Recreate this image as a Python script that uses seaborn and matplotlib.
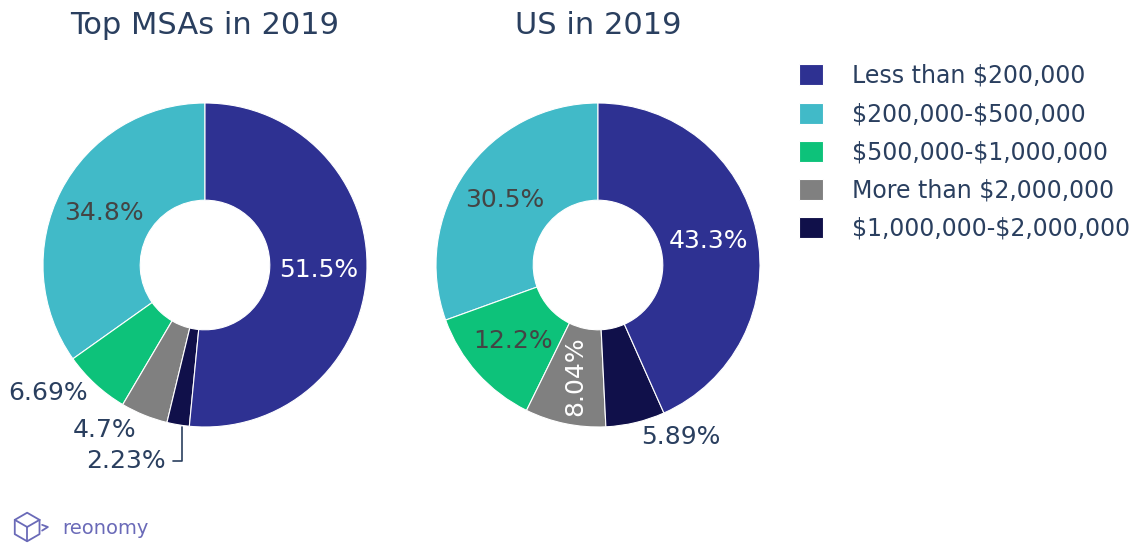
import numpy as np
import matplotlib
matplotlib.use("Agg")
import matplotlib.pyplot as plt
import seaborn as sns

# Data (slice order = counter-clockwise from 12 o'clock, as in the reference)
categories = ["$200,000-$500,000", "$500,000-$1,000,000", "More than $2,000,000",
              "$1,000,000-$2,000,000", "Less than $200,000"]
msa_values = [34.8, 6.69, 4.7, 2.23, 51.5]
us_values = [30.5, 12.2, 8.04, 5.89, 43.3]
msa_labels = ["34.8%", "6.69%", "4.7%", "2.23%", "51.5%"]
us_labels = ["30.5%", "12.2%", "8.04%", "5.89%", "43.3%"]
legend_order = ["Less than $200,000", "$200,000-$500,000", "$500,000-$1,000,000",
                "More than $2,000,000", "$1,000,000-$2,000,000"]

colors = {
    "Less than $200,000": "#2e3192",
    "$200,000-$500,000": "#41bac8",
    "$500,000-$1,000,000": "#0dc27a",
    "More than $2,000,000": "#808080",
    "$1,000,000-$2,000,000": "#10104a",
}

sns.set_style("white")
plt.rcParams["font.family"] = ["DejaVu Sans"]
plt.rcParams["text.parse_math"] = False

TXT = "#2a3f5f"
INSIDE_DARK = "#444444"
HOLE = 0.4
PCT_SIZE = 18

W, H = 1145, 546
fig = plt.figure(figsize=(W / 100, H / 100), dpi=100)


def px_axes(x0, y0, w, h):
    # axes from pixel box (top-left origin)
    return fig.add_axes([x0 / W, (H - y0 - h) / H, w / W, h / H])


def draw_donut(ax, values, labels, styles, title):
    pal = sns.color_palette([colors[c] for c in categories])
    wedges, _ = ax.pie(values, colors=pal, startangle=90, counterclock=True,
                       radius=1, wedgeprops=dict(width=1 - HOLE, edgecolor="white", linewidth=0.8))
    ax.set_xlim(-1, 1)
    ax.set_ylim(-1, 1)
    ax.set_aspect("equal")
    ax.axis("off")
    for w, lab, st in zip(wedges, labels, styles):
        if st["mode"] == "in":
            mid = np.deg2rad((w.theta1 + w.theta2) / 2)
            rr = (1 + HOLE) / 2
            ax.text(rr * np.cos(mid), rr * np.sin(mid), lab, ha="center", va="center",
                    fontsize=PCT_SIZE, color=st["color"], rotation=st.get("rot", 0))
        else:
            x, y = st["pos"]
            ax.text(x, y, lab, ha="center", va="center", fontsize=PCT_SIZE, color=TXT,
                    clip_on=False)
    ax.text(0, 1.48, title, ha="center", va="center", fontsize=22, color=TXT)
    return wedges


ax1 = px_axes(205 - 162, 265 - 162, 324, 324)
msa_styles = [
    {"mode": "in", "color": INSIDE_DARK},
    {"mode": "out", "pos": (-0.97, -0.79)},
    {"mode": "out", "pos": (-0.62, -1.02)},
    {"mode": "out", "pos": (-0.49, -1.21)},
    {"mode": "in", "color": "white"},
]
wedges1 = draw_donut(ax1, msa_values, msa_labels, msa_styles, "Top MSAs in 2019")
# leader line for the thin slice
ax1.plot([-0.14, -0.14, -0.2], [-1.0, -1.21, -1.21], color=TXT, lw=1.2, clip_on=False)

ax2 = px_axes(598 - 162, 265 - 162, 324, 324)
us_styles = [
    {"mode": "in", "color": INSIDE_DARK},
    {"mode": "in", "color": INSIDE_DARK},
    {"mode": "in", "color": "white", "rot": 90},
    {"mode": "out", "pos": (0.51, -1.06)},
    {"mode": "in", "color": "white"},
]
draw_donut(ax2, us_values, us_labels, us_styles, "US in 2019")

# legend
handle_map = dict(zip(categories, wedges1))
fig.legend([handle_map[c] for c in legend_order], legend_order,
           loc="upper left", bbox_to_anchor=(799 / W, 1 - 64 / H), frameon=False,
           fontsize=17, handlelength=1.0, handleheight=1.0, handletextpad=1.25,
           labelspacing=0.6, labelcolor=TXT, borderpad=0, borderaxespad=0)

# reonomy logo (simple cube outline)
logo = "#6a6ab8"
lax = px_axes(10, 508, 40, 38)
lax.set_xlim(-1.2, 1.6)
lax.set_ylim(-1.1, 1.1)
lax.set_aspect("equal")
lax.axis("off")
ang = np.deg2rad(np.arange(30, 391, 60))
lax.plot(np.cos(ang), np.sin(ang), color=logo, lw=1.3)
lax.plot([0, 0], [0, -1], color=logo, lw=1.3)
lax.plot([0, np.cos(np.deg2rad(150))], [0, np.sin(np.deg2rad(150))], color=logo, lw=1.3)
lax.plot([0, np.cos(np.deg2rad(30))], [0, np.sin(np.deg2rad(30))], color=logo, lw=1.3)
lax.plot([1.05, 1.45, 1.05], [0.15, 0.0, -0.25], color=logo, lw=1.3)
fig.text(62 / W, 1 - 528 / H, "reonomy", ha="left", va="center", fontsize=14, color=logo)

fig.savefig("out.png", dpi=100, facecolor="white")
